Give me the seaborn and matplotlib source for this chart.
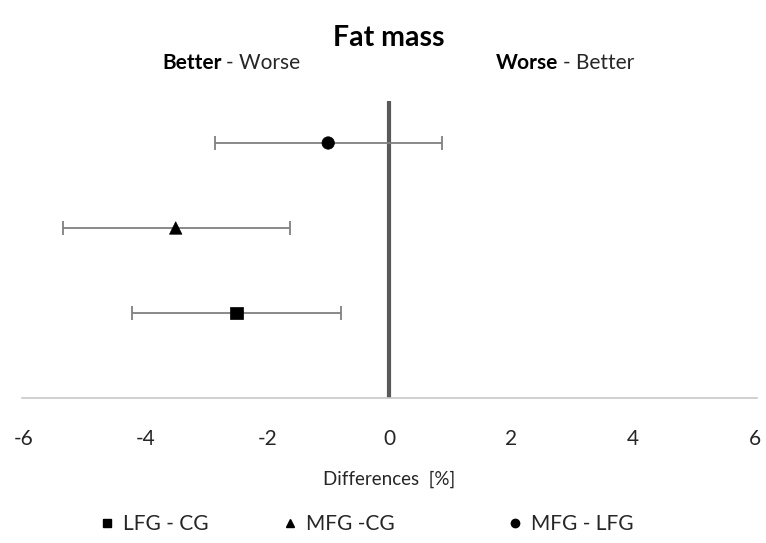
import matplotlib
matplotlib.use("Agg")
import matplotlib.pyplot as plt
from matplotlib.lines import Line2D
import seaborn as sns
import pandas as pd

# Group comparisons (bottom to top), mean differences and confidence limits [%]
comparisons = ["LFG - CG", "MFG -CG", "MFG - LFG"]
row_pos = [1, 2, 3]
mean_diff = [-2.5, -3.5, -1.0]
ci_low = [-4.22, -5.35, -2.85]
ci_high = [-0.79, -1.63, 0.86]
x_ticks = [-6, -4, -2, 0, 2, 4, 6]

df = pd.DataFrame({"comparison": comparisons, "pos": row_pos, "diff": mean_diff,
                   "low": ci_low, "high": ci_high})

sns.set_theme(style="white")
plt.rcParams["font.family"] = ["Lato", "DejaVu Sans"]

W, H = 766, 543
fig = plt.figure(figsize=(W / 100, H / 100), dpi=100)
ax = fig.add_axes([22 / W, (H - 398) / H, (757 - 22) / W, (398 - 100.5) / H])

# confidence intervals
ax.errorbar(df["diff"], df["pos"],
            xerr=[df["diff"] - df["low"], df["high"] - df["diff"]],
            fmt="none", ecolor="#808080", elinewidth=1.3, capsize=5, capthick=1.3, zorder=2)

# zero reference line
ax.axvline(0, color="#595959", lw=3, zorder=1)

markers = {"LFG - CG": "s", "MFG -CG": "^", "MFG - LFG": "o"}
sns.scatterplot(data=df, x="diff", y="pos", style="comparison", markers=markers,
                color="black", s=80, edgecolor="black", linewidth=0.5,
                legend=False, ax=ax, zorder=3)

ax.set_xlim(-6.02, 6.03)
ax.set_ylim(0, 3.5)
ax.set_xticks(x_ticks)
ax.set_xticklabels([str(t) for t in x_ticks], fontsize=15, color="#262626")
ax.set_yticks([])
ax.tick_params(axis="x", length=0, pad=22)
for side in ["top", "left", "right"]:
    ax.spines[side].set_visible(False)
ax.spines["bottom"].set_color("#c8c8c8")
ax.spines["bottom"].set_linewidth(1.2)
ax.set_xlabel("Differences  [%]", fontsize=13.5, color="#262626", labelpad=16)
ax.set_ylabel("")

# title and direction labels
fig.text(389 / W, 1 - 38 / H, "Fat mass", ha="center", va="center",
         fontsize=20.5, fontweight="bold", color="black")
fig.text(222 / W, 1 - 63 / H, "Better", ha="right", va="center",
         fontsize=15, fontweight="bold", color="black")
fig.text(226 / W, 1 - 63 / H, "- Worse", ha="left", va="center",
         fontsize=15, color="#262626")
fig.text(558 / W, 1 - 63 / H, "Worse", ha="right", va="center",
         fontsize=15, fontweight="bold", color="black")
fig.text(563 / W, 1 - 63 / H, "- Better", ha="left", va="center",
         fontsize=15, color="#262626")

# legend entries along the bottom
legend_x = [101, 284, 509]
for comp, lx in zip(comparisons, legend_x):
    handle = Line2D([], [], marker=markers[comp], color="black", linestyle="none",
                    markersize=6, label=comp)
    fig.legend(handles=[handle], loc="center left", bbox_to_anchor=(lx / W, 1 - 524 / H),
               frameon=False, fontsize=15, handlelength=0.6, handletextpad=0.45,
               borderpad=0, borderaxespad=0, labelcolor="#262626")

fig.savefig("out.png", dpi=100, facecolor="white")
